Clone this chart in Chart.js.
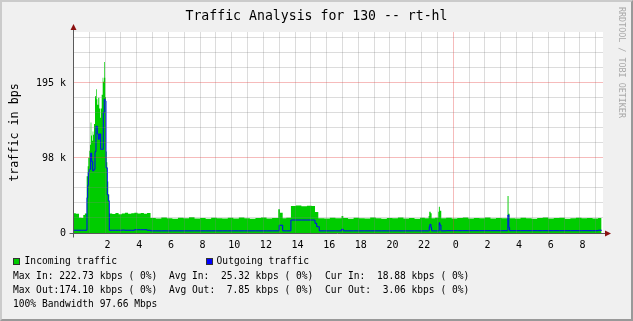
<!DOCTYPE html>
<html>
<head>
<meta charset="utf-8">
<script src="https://cdn.jsdelivr.net/npm/chart.js@4.4.0/dist/chart.umd.min.js"></script>
<style>
    html, body { margin: 0; padding: 0; background: #F0F0F0; }
    #wrap { position: relative; width: 633px; height: 321px; overflow: hidden; font-family: "DejaVu Sans Mono", monospace; color: #000; }
    #chart { position: absolute; left: 0; top: 0; }
    #frame { position: absolute; left: 0; top: 0; width: 633px; height: 321px; box-sizing: border-box;
             border-top: 2px solid #CBCBCB; border-left: 2px solid #CBCBCB;
             border-bottom: 2px solid #999999; border-right: 2px solid #999999; pointer-events: none; }
    #title { position: absolute; left: 0; top: 8px; width: 633px; text-align: center; font-size: 13.2px; line-height: 16px; white-space: pre; }
    #credit { position: absolute; left: 617px; top: 7px; writing-mode: vertical-rl; font-size: 8.4px; line-height: 10px; color: #A8A8A8; white-space: pre; }
    .txt { position: absolute; white-space: pre; font-size: 9.6px; line-height: 14px; }
    .box { position: absolute; width: 5px; height: 5px; border: 1px solid #333; }
</style>
</head>
<body>
<div id="wrap">
    <canvas id="chart" width="633" height="321"></canvas>
    <div id="title"></div>
    <div id="credit"></div>
    <div id="legend"></div>
    <div id="frame"></div>
</div>
<script>
// --- Data (hours since midnight of day 1, values in kbps) ---
const hours = [
    -0.03, 0.15, 0.35, 0.50, 0.62, 0.72, 0.835, 0.854, 0.899, 0.937,
    1.0, 1.044, 1.088, 1.126, 1.151, 1.17, 1.214, 1.252, 1.297, 1.36,
    1.423, 1.467, 1.505, 1.568, 1.631, 1.676, 1.72, 1.783, 1.846, 1.884,
    1.928, 1.947, 1.973, 2.01, 2.055, 2.099, 2.137, 2.2, 2.263, 2.45,
    2.65, 2.85, 3.05, 3.25, 3.45, 3.65, 3.85, 4.05, 4.25, 4.45,
    4.65, 4.87, 5.2, 5.55, 5.9, 6.25, 6.6, 6.95, 7.3, 7.65,
    8.0, 8.35, 8.7, 9.05, 9.4, 9.75, 10.1, 10.45, 10.8, 11.15,
    11.5, 11.85, 12.2, 12.55, 12.94, 13.0, 13.05, 13.22, 13.45, 13.74,
    14.05, 14.4, 14.75, 15.05, 15.26, 15.37, 15.47, 15.53, 15.85, 16.2,
    16.55, 16.94, 17.05, 17.35, 17.7, 18.05, 18.4, 18.75, 19.1, 19.45,
    19.8, 20.15, 20.5, 20.85, 21.2, 21.55, 21.9, 22.2, 22.44, 22.48,
    22.52, 22.57, 22.59, 22.63, 22.85, 23.05, 23.09, 23.11, 23.15, 23.22,
    23.24, 23.55, 23.9, 24.25, 24.6, 24.95, 25.3, 25.65, 26.0, 26.35,
    26.7, 27.05, 27.43, 27.45, 27.49, 27.51, 27.56, 27.9, 28.25, 28.6,
    28.95, 29.3, 29.65, 30.0, 30.35, 30.7, 31.05, 31.4, 31.75, 32.1,
    32.45, 32.8, 33.15, 33.37
];
const incoming = [
    25.8, 25.2, 20.0, 19.5, 23.5, 25.5, 74, 74, 87, 98,
    107, 115, 144, 127, 127, 120, 132, 128, 142, 178,
    187, 174, 167, 176, 162, 150, 162, 180, 202, 197,
    222.7, 222.7, 202, 177, 106, 92, 67, 50, 25.5, 24.6,
    26.0, 24.3, 25.5, 26.3, 25.0, 25.8, 26.5, 25.4, 26.0, 25.2,
    26.2, 19.4, 18.9, 20.1, 19.2, 18.7, 19.8, 19.1, 20.4, 18.9,
    19.5, 18.6, 20.0, 19.2, 18.8, 19.7, 19.0, 20.2, 19.3, 18.7,
    19.6, 20.1, 19.0, 19.5, 31.0, 31.0, 26.4, 19.3, 19.8, 35.2,
    35.8, 34.9, 35.6, 35.0, 27.3, 27.3, 19.3, 19.3, 18.8, 19.9,
    19.1, 22.0, 19.4, 18.7, 19.8, 19.2, 18.8, 20.1, 19.3, 18.7,
    19.6, 19.1, 20.3, 19.0, 19.5, 18.7, 19.9, 19.3, 22.0, 27.7,
    27.7, 25.6, 25.6, 19.2, 19.7, 27.7, 34.3, 34.3, 29.0, 29.0,
    19.1, 19.8, 18.8, 19.4, 20.1, 18.9, 19.6, 19.2, 20.2, 18.8,
    19.5, 19.1, 48.2, 48.2, 25.0, 25.0, 19.3, 18.9, 19.9, 19.2,
    18.7, 19.6, 20.2, 19.0, 19.4, 20.0, 18.7, 19.3, 19.9, 19.1,
    19.6, 19.0, 19.5, 18.9
];
const outgoing = [
    3.6, 3.6, 3.6, 3.6, 3.6, 3.6, 3.6, 46, 62, 79,
    83, 83, 104, 104, 93, 93, 81, 81, 83, 106,
    139, 139, 129, 122, 129, 129, 109, 109, 109, 157,
    157, 174.1, 174.1, 172, 85, 85, 50, 42, 3.6, 3.6,
    3.6, 3.6, 3.8, 3.6, 3.6, 3.6, 4.2, 4.2, 4.2, 4.2,
    3.6, 2.8, 2.8, 2.8, 2.8, 2.8, 2.8, 2.8, 2.8, 2.8,
    2.8, 2.8, 2.8, 2.8, 2.8, 2.8, 2.8, 2.8, 2.8, 2.8,
    2.8, 2.8, 2.8, 2.8, 2.8, 10.1, 10.1, 2.8, 2.8, 16.9,
    16.9, 16.9, 16.9, 16.9, 12.6, 8.2, 8.2, 2.8, 2.8, 2.8,
    2.8, 4.8, 2.8, 2.8, 2.8, 2.8, 2.8, 2.8, 2.8, 2.8,
    2.8, 2.8, 2.8, 2.8, 2.8, 2.8, 2.8, 2.8, 2.8, 8.2,
    11.3, 11.3, 6.9, 2.8, 2.8, 2.8, 2.8, 13.4, 10.4, 2.8,
    2.8, 3.0, 3.0, 3.0, 3.0, 3.0, 3.0, 3.0, 3.0, 3.0,
    3.0, 3.0, 3.0, 23.4, 23.4, 7.0, 3.0, 3.0, 3.0, 3.0,
    3.0, 3.0, 3.0, 3.0, 3.0, 3.0, 3.0, 3.0, 3.0, 3.0,
    3.0, 3.0, 3.6, 3.1
];

const X_MIN = -0.03;
const X_MAX = 33.46;
const Y_MAX = 261.7;
const Y_STEP = 19.531;      // 1/5 of 97.66 k
const hourTicks = [1, 2, 3, 4, 5, 6, 7, 8, 9, 10, 11, 12, 13, 14, 15, 16, 17,
                   18, 19, 20, 21, 22, 23, 24, 25, 26, 27, 28, 29, 30, 31, 32, 33];

const titleText = 'Traffic Analysis for 130 -- rt-hl';
const creditText = 'RRDTOOL / TOBI OETIKER';
const seriesNames = ['Incoming traffic', 'Outgoing traffic'];
const seriesColors = ['#00CC00', '#0000FF'];
const statLines = [
    'Max In: 222.73 kbps ( 0%)  Avg In:  25.32 kbps ( 0%)  Cur In:  18.88 kbps ( 0%)',
    'Max Out:174.10 kbps ( 0%)  Avg Out:  7.85 kbps ( 0%)  Cur Out:  3.06 kbps ( 0%)',
    '100% Bandwidth 97.66 Mbps'
];

// --- Colors ---
const GRID = 'rgba(128,128,128,0.28)';
const MGRID = 'rgba(230,60,60,0.35)';

// --- Texts ---
document.getElementById('title').textContent = titleText;
document.getElementById('credit').textContent = creditText;

const legend = document.getElementById('legend');
function addText(text, left, top) {
    const d = document.createElement('div');
    d.className = 'txt';
    d.style.left = left + 'px';
    d.style.top = top + 'px';
    d.textContent = text;
    legend.appendChild(d);
}
function addBox(color, left, top) {
    const b = document.createElement('div');
    b.className = 'box';
    b.style.left = left + 'px';
    b.style.top = top + 'px';
    b.style.background = color;
    legend.appendChild(b);
}
addBox(seriesColors[0], 13, 258);
addText(seriesNames[0], 24.6, 254.3);
addBox(seriesColors[1], 206, 258);
addText(seriesNames[1], 216.6, 254.3);
statLines.forEach((line, i) => addText(line, 13, 268.5 + i * 14));

// --- Plugin: canvas background, axes and arrows ---
const rrdFrame = {
    id: 'rrdFrame',
    beforeDraw(chart) {
        const { ctx, chartArea: a } = chart;
        ctx.save();
        ctx.fillStyle = '#FFFFFF';
        ctx.fillRect(a.left, a.top, a.right - a.left, a.bottom - a.top);
        ctx.restore();
    },
    afterDraw(chart) {
        const { ctx, chartArea: a } = chart;
        const y0 = Math.round(chart.scales.y.getPixelForValue(0)) + 0.5;
        const x0 = Math.round(a.left) + 0.5;
        ctx.save();
        ctx.strokeStyle = '#5A5A5A';
        ctx.lineWidth = 1;
        ctx.beginPath();
        ctx.moveTo(x0, a.top - 3);
        ctx.lineTo(x0, y0 + 4);
        ctx.moveTo(x0 - 4, y0);
        ctx.lineTo(a.right + 3, y0);
        ctx.stroke();
        ctx.fillStyle = '#8B1010';
        ctx.beginPath();
        ctx.moveTo(x0, a.top - 8);
        ctx.lineTo(x0 - 3, a.top - 2);
        ctx.lineTo(x0 + 3, a.top - 2);
        ctx.closePath();
        ctx.fill();
        ctx.beginPath();
        ctx.moveTo(a.right + 8, y0);
        ctx.lineTo(a.right + 2, y0 - 3);
        ctx.lineTo(a.right + 2, y0 + 3);
        ctx.closePath();
        ctx.fill();
        ctx.restore();
    }
};

// --- Chart ---
Chart.defaults.font.family = "'DejaVu Sans Mono', monospace";
Chart.defaults.color = '#000';

new Chart(document.getElementById('chart').getContext('2d'), {
    type: 'line',
    data: {
        datasets: [
            {
                label: seriesNames[1],
                data: hours.map((h, i) => ({ x: h, y: outgoing[i] })),
                borderColor: seriesColors[1],
                borderWidth: 1,
                fill: false,
                stepped: true,
                pointRadius: 0,
                order: 0
            },
            {
                label: seriesNames[0],
                data: hours.map((h, i) => ({ x: h, y: incoming[i] })),
                borderColor: seriesColors[0],
                backgroundColor: seriesColors[0],
                borderWidth: 0,
                fill: 'origin',
                stepped: true,
                pointRadius: 0,
                order: 1
            }
        ]
    },
    options: {
        responsive: false,
        animation: false,
        events: [],
        layout: { padding: { left: 0, right: 30, top: 32, bottom: 68 } },
        plugins: { legend: { display: false }, tooltip: { enabled: false } },
        scales: {
            x: {
                type: 'linear',
                min: X_MIN,
                max: X_MAX,
                afterBuildTicks: (scale) => { scale.ticks = hourTicks.map(v => ({ value: v })); },
                afterFit: (scale) => { scale.height = 20; scale.paddingLeft = 0; scale.paddingRight = 0; },
                border: { display: false },
                grid: {
                    z: 1,
                    drawTicks: false,
                    color: (ctx) => (ctx.tick && ctx.tick.value === 24 ? MGRID : GRID)
                },
                ticks: {
                    autoSkip: false,
                    maxRotation: 0,
                    padding: 6,
                    labelOffset: 2.5,
                    font: { size: 10 },
                    callback: (value) => (value % 2 === 0 ? String(value % 24) : '')
                }
            },
            y: {
                min: 0,
                max: Y_MAX,
                afterBuildTicks: (scale) => {
                    const t = [];
                    for (let i = 0; i * Y_STEP <= Y_MAX; i++) t.push({ value: i * Y_STEP });
                    scale.ticks = t;
                },
                afterFit: (scale) => { scale.width = 73; scale.paddingTop = 0; scale.paddingBottom = 0; },
                border: { display: false },
                grid: {
                    z: 1,
                    drawTicks: false,
                    color: (ctx) => (ctx.index === 0 ? 'rgba(0,0,0,0)' : (ctx.index % 5 === 0 ? MGRID : GRID))
                },
                ticks: {
                    padding: 7,
                    font: { size: 10 },
                    callback: (value, index) => {
                        if (index % 5 !== 0) return '';
                        return index === 0 ? '0' : Math.round(value) + ' k';
                    }
                },
                title: {
                    display: true,
                    text: 'traffic in bps',
                    font: { size: 11.7 },
                    padding: { top: 8, bottom: 0 }
                }
            }
        }
    },
    plugins: [rrdFrame]
});
</script>
</body>
</html>
